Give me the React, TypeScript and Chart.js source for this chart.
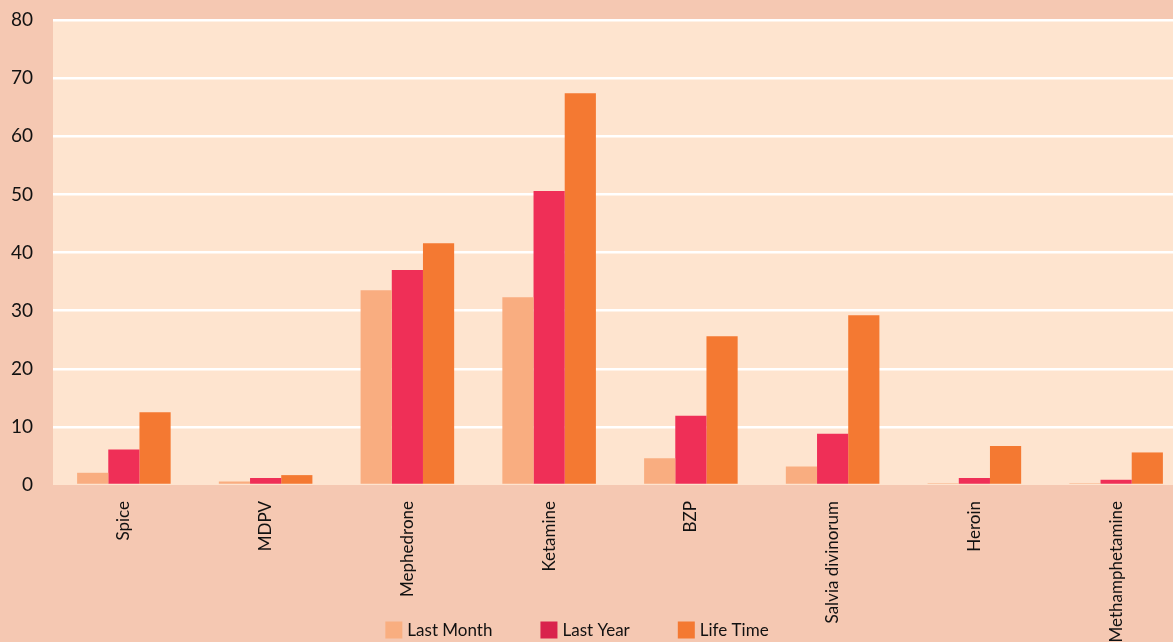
import React, { useEffect, useRef } from "react";
import { Chart, registerables } from "chart.js";

Chart.register(...registerables);

const categories = ["Spice", "MDPV", "Mephedrone", "Ketamine", "BZP", "Salvia divinorum", "Heroin", "Methamphetamine"];
const lastMonth = [2.1, 0.6, 33.5, 32.3, 4.6, 3.2, 0.3, 0.3];
const lastYear = [6.1, 1.2, 37.0, 50.6, 11.9, 8.8, 1.2, 0.9];
const lifeTime = [12.5, 1.7, 41.6, 67.4, 25.6, 29.2, 6.7, 5.6];
const seriesNames = ["Last Month", "Last Year", "Life Time"];
const barColors = ["#F9AD80", "#EF2F57", "#F47932"];
const legendColors = ["#F9AE80", "#D9224C", "#F47932"];

const FONT = "Lato, 'Open Sans', sans-serif";
const OUTER_BG = "#F5C8B2";
const PLOT_BG = "#FEE4CF";

const bgPlugin = {
  id: "bgPlugin",
  beforeDraw(chart: any) {
    const { ctx, chartArea, width, height } = chart;
    ctx.save();
    ctx.fillStyle = OUTER_BG;
    ctx.fillRect(0, 0, width, height);
    ctx.fillStyle = PLOT_BG;
    ctx.fillRect(chartArea.left, chartArea.top, chartArea.right - chartArea.left, chartArea.bottom - chartArea.top);
    ctx.restore();
  },
};

const legendPlugin = {
  id: "customLegend",
  afterDraw(chart: any) {
    const { ctx } = chart;
    ctx.save();
    ctx.font = `17px ${FONT}`;
    ctx.textBaseline = "middle";
    const box = 17;
    const gap = 5;
    const spacing = 48;
    const names = chart.data.datasets.map((d: any) => d.label);
    const widths = names.map((n: string) => box + gap + ctx.measureText(n).width);
    const total = widths.reduce((a: number, b: number) => a + b, 0) + spacing * (names.length - 1);
    let x = 577 - total / 2;
    const yc = 630;
    names.forEach((n: string, i: number) => {
      ctx.fillStyle = legendColors[i];
      ctx.fillRect(x, yc - box / 2, box, box);
      ctx.fillStyle = "#111";
      ctx.fillText(n, x + box + gap, yc + 1);
      x += widths[i] + spacing;
    });
    ctx.restore();
  },
};

export default function App() {
  const ref = useRef<HTMLCanvasElement | null>(null);
  useEffect(() => {
    if (!ref.current) return;
    const data = [lastMonth, lastYear, lifeTime];
    const chart = new Chart(ref.current, {
      type: "bar",
      data: {
        labels: categories,
        datasets: seriesNames.map((name, i) => ({
          label: name,
          data: data[i],
          backgroundColor: barColors[i],
          borderWidth: 0,
          categoryPercentage: 0.66,
          barPercentage: 1.0,
        })),
      },
      options: {
        responsive: false,
        animation: false,
        layout: { padding: { top: 20, right: 0, left: 0, bottom: 0 } },
        plugins: { legend: { display: false }, tooltip: { enabled: false } },
        scales: {
          x: {
            grid: { display: false },
            border: { display: false },
            ticks: {
              minRotation: 90,
              maxRotation: 90,
              autoSkip: false,
              padding: 8,
              color: "#111",
              font: { family: FONT, size: 17 },
            },
            afterFit(scale: any) {
              scale.height = 157;
            },
          },
          y: {
            min: 0,
            max: 80,
            grid: {
              color: (c: any) => (c.tick && c.tick.value === 0 ? "rgba(0,0,0,0)" : "#FFFFFF"),
              lineWidth: 2.5,
              drawTicks: true,
              tickLength: 20,
              tickColor: "rgba(0,0,0,0)",
            },
            border: { display: false },
            ticks: {
              stepSize: 10,
              padding: 0,
              color: "#111",
              font: { family: FONT, size: 19 },
            },
            afterFit(scale: any) {
              scale.width = 53;
            },
          },
        },
      },
      plugins: [bgPlugin, legendPlugin],
    });
    return () => chart.destroy();
  }, []);
  return (
    <div style={{ position: "fixed", left: 0, top: 0, width: 1173, height: 642, background: OUTER_BG, overflow: "hidden" }}>
      <canvas ref={ref} width={1187} height={642} style={{ display: "block" }} />
    </div>
  );
}
